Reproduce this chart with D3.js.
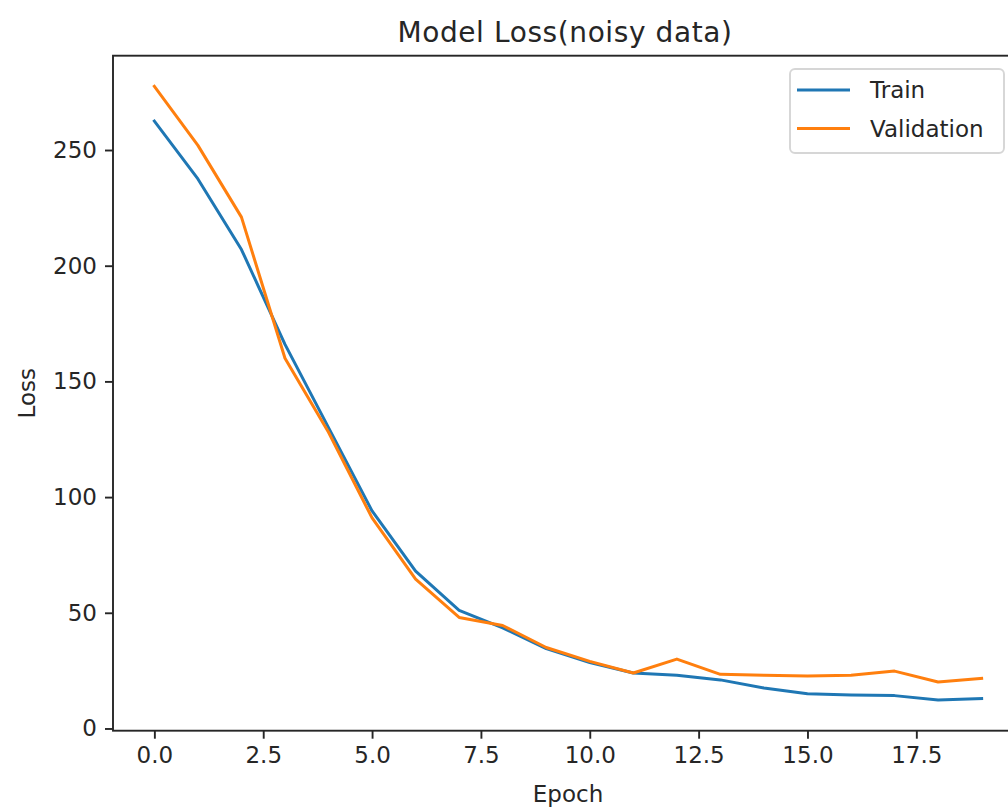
<!DOCTYPE html>
<html>
<head>
<meta charset="utf-8">
<script src="https://cdn.jsdelivr.net/npm/d3@7"></script>
<style>
  html, body { margin: 0; padding: 0; background: #fff; }
  svg { display: block; font-family: "DejaVu Sans", sans-serif; }
</style>
</head>
<body>
<svg id="chart" width="1008" height="809"></svg>
<script>
// ---- data ----
const epochs = d3.range(0, 20);
const trainLoss = [262.5, 237.5, 207, 166, 130, 94, 68, 51, 43.5, 34.5, 28.5, 24, 23, 21, 17.5, 15, 14.5, 14.2, 12.3, 12.9];
const valLoss   = [277.5, 252, 221, 160, 128, 91, 64.5, 48, 44.5, 35, 29, 24, 30, 23.4, 23, 22.7, 23, 24.8, 20.1, 21.7];
const xTicks = [0, 2.5, 5, 7.5, 10, 12.5, 15, 17.5];
const yTicks = [0, 50, 100, 150, 200, 250];
const seriesNames = ["Train", "Validation"];
const seriesColors = ["#1f77b4", "#ff7f0e"];
const titleText = "Model Loss(noisy data)";
const xLabel = "Epoch";
const yLabel = "Loss";

// ---- layout ----
const W = 1008, H = 809;
const plot = { left: 113, right: 1023, top: 55.7, bottom: 730.7 };
const svg = d3.select("#chart");

const xMin = d3.min(epochs), xMax = d3.max(epochs);
const xPad = (xMax - xMin) * 0.05;
const all = trainLoss.concat(valLoss);
const yMin = d3.min(all), yMax = d3.max(all);
const yPad = (yMax - yMin) * 0.05;

const x = d3.scaleLinear().domain([xMin - xPad, xMax + xPad]).range([plot.left, plot.right]);
const y = d3.scaleLinear().domain([yMin - yPad, yMax + yPad]).range([plot.bottom, plot.top]);

const axisColor = "#262626";
const fontSize = 23;

// lines
const line = d3.line().x((d, i) => x(epochs[i])).y(d => y(d));
[trainLoss, valLoss].forEach((s, k) => {
  svg.append("path").datum(s)
    .attr("d", line)
    .attr("fill", "none")
    .attr("stroke", seriesColors[k])
    .attr("stroke-width", 3)
    .attr("stroke-linejoin", "round")
    .attr("stroke-linecap", "square");
});

// axes
const xAxis = d3.axisBottom(x).tickValues(xTicks).tickFormat(d3.format(".1f")).tickSize(8).tickPadding(8);
const yAxis = d3.axisLeft(y).tickValues(yTicks).tickFormat(d3.format("d")).tickSize(8).tickPadding(8);

const gx = svg.append("g").attr("transform", `translate(0,${plot.bottom})`).call(xAxis);
const gy = svg.append("g").attr("transform", `translate(${plot.left},0)`).call(yAxis);
[gx, gy].forEach(g => {
  g.select(".domain").remove();
  g.selectAll(".tick line").attr("stroke", axisColor).attr("stroke-width", 1.9);
  g.selectAll(".tick text").attr("fill", axisColor)
    .style("font-family", "DejaVu Sans").style("font-size", fontSize + "px");
});

// spines
svg.append("rect")
  .attr("x", plot.left).attr("y", plot.top)
  .attr("width", plot.right - plot.left).attr("height", plot.bottom - plot.top)
  .attr("fill", "none").attr("stroke", axisColor).attr("stroke-width", 1.9);

// title and labels
svg.append("text")
  .attr("x", (plot.left + plot.right) / 2 - 3).attr("y", 42)
  .attr("text-anchor", "middle").attr("fill", axisColor)
  .style("font-size", "28px").style("letter-spacing", "0.6px").text(titleText);

svg.append("text")
  .attr("x", (plot.left + plot.right) / 2).attr("y", 802)
  .attr("text-anchor", "middle").attr("fill", axisColor)
  .style("font-size", fontSize + "px").text(xLabel);

svg.append("text")
  .attr("transform", `translate(35,${(plot.top + plot.bottom) / 2}) rotate(-90)`)
  .attr("text-anchor", "middle").attr("fill", axisColor)
  .style("font-size", fontSize + "px").text(yLabel);

// legend
const lg = svg.append("g");
lg.append("rect")
  .attr("x", 790).attr("y", 69).attr("width", 214).attr("height", 84)
  .attr("rx", 5).attr("ry", 5)
  .attr("fill", "rgba(255,255,255,0.8)").attr("stroke", "#d6d6d6").attr("stroke-width", 1.9);
seriesNames.forEach((name, k) => {
  const cy = 90 + k * 38.5;
  lg.append("line").attr("x1", 797).attr("x2", 850).attr("y1", cy).attr("y2", cy)
    .attr("stroke", seriesColors[k]).attr("stroke-width", 3);
  lg.append("text").attr("x", 870).attr("y", cy + 8)
    .attr("fill", axisColor).style("font-size", fontSize + "px").text(name);
});
</script>
</body>
</html>
